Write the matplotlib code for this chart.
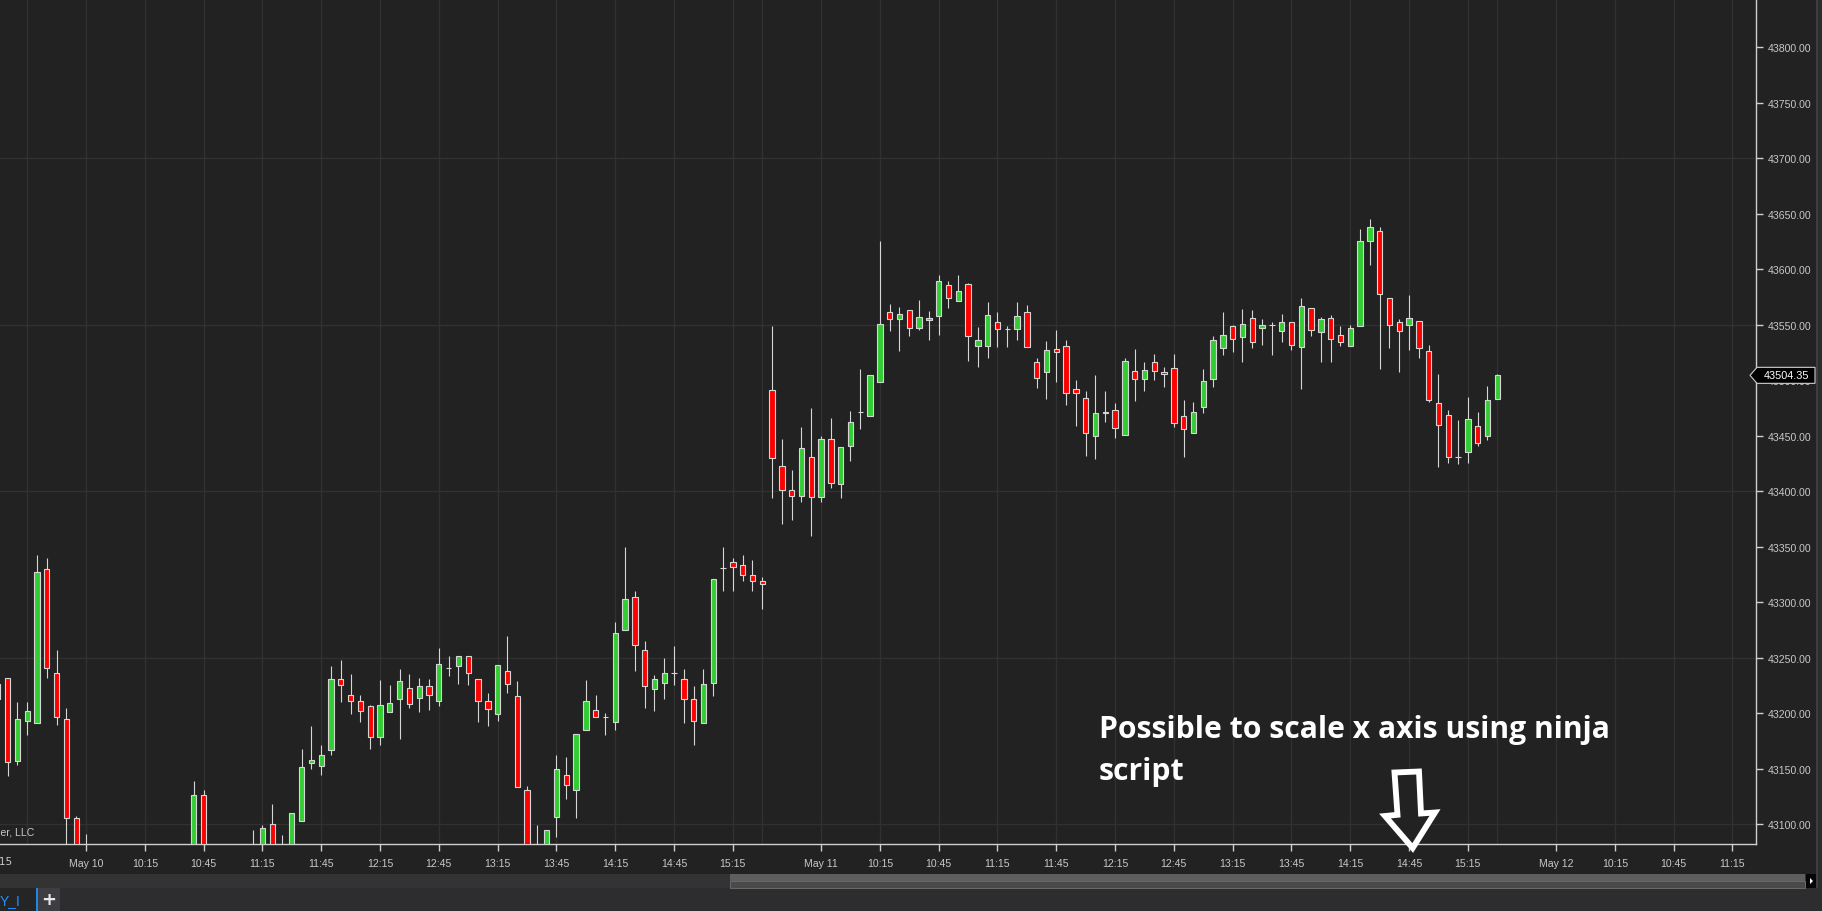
import numpy as np
import matplotlib
matplotlib.use("Agg")
import matplotlib.pyplot as plt
from matplotlib.patches import Polygon, Rectangle

# 5-minute bars, bar index -9 .. 144 (None = bar outside the visible price range)
bar_start = -9
opens = [43213, 43232, 43157, 43193, 43191, 43330, 43236, 43195, 43105, 43060,
         None, None, None, None, None, None, None, None, None, None,
         43050, 43126, None, None, None, None, 43070, 43070, 43100, 43075,
         43075, 43103, 43155, 43152, 43167, 43231, 43216, 43211, 43206, 43178,
         43201, 43213, 43223, 43214, 43224, 43211, 43241, 43242, 43251, 43231,
         43211, 43199, 43238, 43215, 43131, 43075, 43075, 43106, 43144, 43131,
         43185, 43203, 43196, 43192, 43275, 43305, 43257, 43222, 43227, 43236,
         43231, 43213, 43191, 43227, 43331, 43336, 43333, 43324, 43319, 43491,
         43423, 43401, 43396, 43431, 43395, 43447, 43406, 43441, 43471, 43468,
         43498, 43561, 43555, 43563, 43547, 43554, 43558, 43586, 43571, 43587,
         43531, 43531, 43552, 43546, 43546, 43561, 43516, 43507, 43528, 43531,
         43492, 43484, 43450, 43471, 43473, 43451, 43508, 43501, 43516, 43507,
         43511, 43468, 43452, 43476, 43501, 43529, 43549, 43539, 43556, 43547,
         43550, 43544, 43552, 43530, 43565, 43543, 43556, 43541, 43531, 43549,
         43625, 43634, 43574, 43552, 43550, 43553, 43526, 43479, 43469, 43431,
         43435, 43459, 43450, 43483]
highs = [43230, 43232, 43210, 43210, 43342, 43340, 43257, 43205, 43107, 43091,
         None, None, None, None, None, None, None, None, None, None,
         43139, 43131, None, None, None, None, 43095, 43099, 43118, 43090,
         43110, 43168, 43188, 43171, 43242, 43248, 43235, 43216, 43207, 43230,
         43225, 43240, 43235, 43232, 43231, 43259, 43251, 43251, 43251, 43231,
         43218, 43243, 43269, 43229, 43134, 43099, 43095, 43162, 43160, 43181,
         43230, 43216, 43200, 43282, 43350, 43310, 43265, 43234, 43250, 43260,
         43240, 43224, 43240, 43321, 43350, 43340, 43342, 43338, 43323, 43549,
         43447, 43419, 43458, 43475, 43450, 43466, 43440, 43472, 43510, 43505,
         43625, 43569, 43566, 43563, 43572, 43562, 43595, 43589, 43595, 43588,
         43548, 43570, 43561, 43549, 43570, 43568, 43520, 43535, 43545, 43536,
         43500, 43490, 43505, 43490, 43479, 43520, 43528, 43516, 43524, 43512,
         43524, 43482, 43480, 43510, 43540, 43561, 43550, 43564, 43563, 43555,
         43552, 43560, 43552, 43574, 43565, 43557, 43559, 43549, 43550, 43636,
         43645, 43638, 43574, 43555, 43577, 43553, 43532, 43506, 43473, 43464,
         43485, 43471, 43495, 43506]
lows = [43205, 43143, 43153, 43180, 43191, 43232, 43189, 43070, 43045, 43040,
        None, None, None, None, None, None, None, None, None, None,
        43040, 43045, None, None, None, None, 43060, 43065, 43065, 43070,
        43070, 43103, 43150, 43144, 43162, 43210, 43199, 43192, 43168, 43171,
        43201, 43177, 43205, 43201, 43203, 43206, 43233, 43226, 43225, 43192,
        43188, 43193, 43218, 43133, 43065, 43068, 43070, 43088, 43123, 43105,
        43185, 43196, 43180, 43185, 43275, 43238, 43205, 43202, 43213, 43225,
        43191, 43171, 43191, 43215, 43310, 43310, 43319, 43310, 43294, 43394,
        43370, 43374, 43390, 43360, 43390, 43403, 43394, 43427, 43456, 43468,
        43498, 43544, 43526, 43540, 43545, 43536, 43541, 43565, 43571, 43517,
        43512, 43520, 43530, 43530, 43536, 43530, 43493, 43483, 43498, 43478,
        43459, 43432, 43429, 43462, 43448, 43451, 43481, 43490, 43500, 43494,
        43458, 43431, 43452, 43470, 43494, 43523, 43525, 43516, 43529, 43532,
        43523, 43534, 43527, 43492, 43540, 43516, 43516, 43531, 43531, 43549,
        43604, 43510, 43529, 43507, 43527, 43520, 43480, 43422, 43425, 43424,
        43425, 43441, 43446, 43483]
closes = [43226, 43156, 43195, 43202, 43327, 43241, 43196, 43105, 43060, 43050,
          None, None, None, None, None, None, None, None, None, None,
          43126, 43050, None, None, None, None, 43075, 43096, 43070, 43080,
          43110, 43151, 43158, 43162, 43231, 43225, 43211, 43202, 43178, 43207,
          43209, 43229, 43208, 43224, 43216, 43244, 43241, 43251, 43236, 43211,
          43204, 43243, 43226, 43133, 43075, 43078, 43095, 43150, 43135, 43181,
          43211, 43196, 43196, 43272, 43303, 43261, 43224, 43231, 43236, 43236,
          43213, 43193, 43226, 43321, 43331, 43332, 43324, 43319, 43316, 43430,
          43401, 43396, 43439, 43395, 43447, 43407, 43440, 43462, 43471, 43505,
          43551, 43555, 43560, 43547, 43557, 43556, 43589, 43574, 43580, 43540,
          43536, 43559, 43546, 43546, 43558, 43530, 43502, 43527, 43525, 43488,
          43488, 43452, 43470, 43470, 43457, 43517, 43501, 43509, 43508, 43506,
          43461, 43456, 43471, 43499, 43536, 43541, 43537, 43551, 43534, 43550,
          43550, 43552, 43532, 43567, 43545, 43555, 43537, 43534, 43547, 43625,
          43638, 43578, 43550, 43544, 43556, 43529, 43482, 43460, 43431, 43431,
          43465, 43443, 43482, 43504.35]

# time axis labels (bar index -> label)
tick_bars = [-9, 0, 6, 12, 18, 24, 30, 36, 42, 48, 54, 60, 66,
             75, 81, 87, 93, 99, 105, 111, 117, 123, 129, 135, 141,
             150, 156, 162, 168]
tick_labels = ["15:15", "May 10", "10:15", "10:45", "11:15", "11:45", "12:15",
               "12:45", "13:15", "13:45", "14:15", "14:45", "15:15",
               "May 11", "10:15", "10:45", "11:15", "11:45", "12:15",
               "12:45", "13:15", "13:45", "14:15", "14:45", "15:15",
               "May 12", "10:15", "10:45", "11:15"]
session_close_bars = [-6, 69, 144]

W, H = 1822, 912
BG = '#222222'
GRID = '#313131'
AXC = '#cfcfcf'
TXT = '#c8c8c8'
UP = '#32cd32'
DOWN = '#ff0000'
OUTLINE = '#d6d6d6'


def fx(px):
    return px / W


def fy(py):
    return 1 - py / H


fig = plt.figure(figsize=(W / 100, H / 100), dpi=100)
fig.patch.set_facecolor('#2d2d30')

# chart panel background, scrollbar, tab bar
fig.add_artist(Rectangle((0, fy(875)), fx(1816), 875 / H, transform=fig.transFigure,
                         facecolor=BG, edgecolor='none', zorder=-2))
fig.add_artist(Rectangle((fx(1816), fy(889)), fx(1.5), 889 / H, transform=fig.transFigure,
                         facecolor='#3d3d3d', edgecolor='none', zorder=-1))
fig.add_artist(Rectangle((0, fy(889)), fx(1806), 14 / H, transform=fig.transFigure,
                         facecolor='#333333', edgecolor='none', zorder=-1))
fig.add_artist(Rectangle((fx(730), fy(882)), fx(1075), 7 / H, transform=fig.transFigure,
                         facecolor='#5e5e5e', edgecolor='none', zorder=-1))
fig.add_artist(Rectangle((fx(730), fy(889)), fx(1075), 7 / H, transform=fig.transFigure,
                         facecolor='#4a4a4a', edgecolor='#6a6a6a', lw=0.7, zorder=-1))
for gx in (733.5, 736.5):
    fig.add_artist(Rectangle((fx(gx), fy(886)), fx(0.8), 8 / H, transform=fig.transFigure,
                             facecolor='#9a9a9a', edgecolor='none', zorder=0))
fig.add_artist(Rectangle((fx(1806), fy(889)), fx(10), 14 / H, transform=fig.transFigure,
                         facecolor='#050505', edgecolor='none', zorder=0))
fig.add_artist(Polygon([(fx(1810), fy(879)), (fx(1810), fy(885)), (fx(1813), fy(882))],
                       closed=True, transform=fig.transFigure, facecolor='white',
                       edgecolor='none', zorder=1))
fig.add_artist(Rectangle((0, 0), fx(36), 23 / H, transform=fig.transFigure,
                         facecolor='#252526', edgecolor='none', zorder=-1))
fig.add_artist(Rectangle((fx(36), 0), fx(1.5), 23 / H, transform=fig.transFigure,
                         facecolor='#1e88e5', edgecolor='none', zorder=0))
fig.add_artist(Rectangle((fx(37.5), 0), fx(22), 23 / H, transform=fig.transFigure,
                         facecolor='#3e3e42', edgecolor='none', zorder=-1))
fig.text(fx(48.5), fy(900.5), '+', color='#e8e8e8', fontsize=13, fontweight='bold',
         ha='center', va='center', family='DejaVu Sans')
fig.text(fx(21), fy(901), 'Y_I', color='#1e90ff', fontsize=10, ha='right', va='center',
         family='Liberation Sans')

# price panel
ax = fig.add_axes([0, fy(845), fx(1756), 845 / H])
ax.set_facecolor(BG)
ax.set_xlim(-8.78, 170.4)
ax.set_ylim(43082, 43843.5)

for s in ('left', 'top'):
    ax.spines[s].set_visible(False)
for s in ('bottom', 'right'):
    ax.spines[s].set_color(AXC)
    ax.spines[s].set_linewidth(1.0)

# grid
for b in tick_bars + session_close_bars:
    ax.axvline(b, color=GRID, lw=1.0, zorder=0)
for p in np.arange(43100, 43850, 150):
    ax.axhline(p, color=GRID, lw=1.0, zorder=0)

# candles
idx = np.arange(bar_start, bar_start + len(opens))
for i, o, h, l, c in zip(idx, opens, highs, lows, closes):
    if o is None:
        continue
    ax.vlines(i, l, h, color=OUTLINE, lw=0.8, zorder=2)
    ax.bar(i, abs(c - o), bottom=min(o, c), width=0.54,
           color=UP if c >= o else DOWN, edgecolor=OUTLINE, linewidth=0.8, zorder=3)

# y axis on the right
ax.yaxis.tick_right()
ax.set_yticks(np.arange(43100, 43801, 50))
ax.set_yticklabels([f"{v:.2f}" for v in np.arange(43100, 43801, 50)])
ax.tick_params(axis='y', colors=AXC, labelcolor=TXT, length=5, width=1.0,
               pad=3.8, labelsize=7.6)

# x axis (bar index labels)
lo, hi = ax.get_xlim()
vis = [(b, t) for b, t in zip(tick_bars, tick_labels) if lo <= b <= hi]
ax.set_xticks([b for b, _ in vis])
ax.set_xticklabels([t for _, t in vis])
ax.tick_params(axis='x', colors=AXC, labelcolor=TXT, length=5, width=1.0,
               pad=4.8, labelsize=7.6)
for b, t in zip(tick_bars, tick_labels):
    if not (lo <= b <= hi):
        ax.annotate(t, xy=(b, 0), xycoords=('data', 'axes fraction'),
                    xytext=(0, -8.7), textcoords='offset points', ha='center', va='top',
                    color=TXT, fontsize=7.6, annotation_clip=False)
for lab in ax.get_xticklabels() + ax.get_yticklabels():
    lab.set_family('Liberation Sans')

# copyright (cut at left edge)
fig.text(fx(34), fy(833), '\u00a9 2023 NinjaTrader, LLC', color=TXT, fontsize=7.6,
         ha='right', va='center', family='Liberation Sans')

# last price marker
last = closes[-1]
yd = ax.transData.transform((0, last))[1]
yf = fig.transFigure.inverted().transform((0, yd))[1]
hh = 8 / H
tag = Polygon([(fx(1750), yf), (fx(1757), yf + hh), (fx(1815), yf + hh),
               (fx(1815), yf - hh), (fx(1757), yf - hh)], closed=True,
              transform=fig.transFigure, facecolor='#000000', edgecolor='#d0d0d0',
              lw=0.8, zorder=10)
fig.add_artist(tag)
fig.text(fx(1786.5), yf, f"{last:.2f}", color='white', fontsize=7.8, ha='center',
         va='center', family='Liberation Sans', zorder=11)

# annotation
fig.text(fx(1099), fy(738), 'Possible to scale x axis using ninja', color='white',
         fontsize=21.7, fontweight='bold', family='Open Sans', va='baseline', ha='left')
fig.text(fx(1099), fy(780), 'script', color='white',
         fontsize=21.7, fontweight='bold', family='Open Sans', va='baseline', ha='left')
arrow_px = [(1394.5, 773.5), (1419, 772.5), (1421, 814.5), (1435, 813.5),
            (1412.7, 849), (1385, 817), (1397.5, 815.8)]
fig.add_artist(Polygon([(fx(x), fy(y)) for x, y in arrow_px], closed=True,
                       transform=fig.transFigure, facecolor=BG, edgecolor='white',
                       lw=4.2, joinstyle='miter', zorder=12))

fig.savefig('out.png', dpi=100, facecolor=fig.get_facecolor())
